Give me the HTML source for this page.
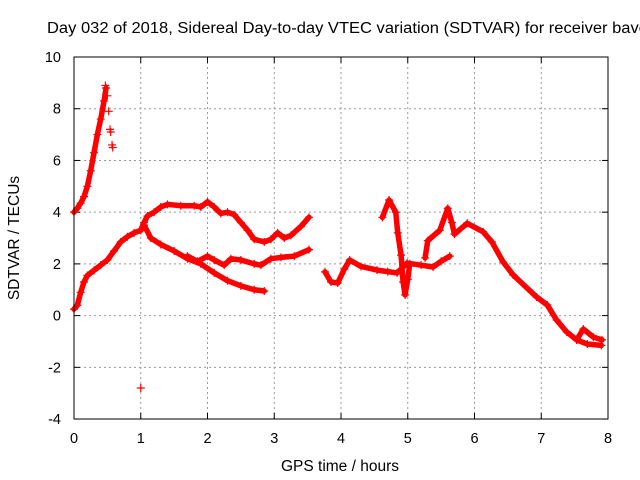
<!DOCTYPE html>
<html><head><meta charset="utf-8"><style>
body{margin:0;background:#fff;}
svg{display:block;font-family:"Liberation Sans",Arial,sans-serif;}
</style></head><body>
<svg id="chart" width="640" height="480">
<text x="47" y="33" font-size="15.5" textLength="600" lengthAdjust="spacingAndGlyphs">Day 032 of 2018, Sidereal Day-to-day VTEC variation (SDTVAR) for receiver bavc</text>
<text x="340" y="471" text-anchor="middle" font-size="15.5">GPS time / hours</text>
<text transform="translate(19,238) rotate(-90)" text-anchor="middle" font-size="15.5">SDTVAR / TECUs</text>
<g id="grid"></g><g id="marks"></g>
<rect x="74" y="57" width="534" height="362" fill="none" stroke="#000"/>
</svg>
<script>
const xTicks=[0,1,2,3,4,5,6,7,8];
const yTicks=[-4,-2,0,2,4,6,8,10];
const seriesA=[[0,4.0],[0.05,4.15],[0.1,4.35],[0.15,4.6],[0.2,5.0],[0.25,5.6],[0.3,6.3],[0.35,7.0],[0.4,7.6],[0.45,8.3],[0.48,8.8]];
const seriesAScatter=[[0.47,8.9],[0.5,8.5],[0.52,7.9],[0.54,7.2],[0.55,7.1],[0.57,6.6],[0.58,6.5]];
const seriesB=[[0,0.25],[0.05,0.4],[0.1,0.9],[0.15,1.3],[0.2,1.55],[0.3,1.75],[0.4,1.95],[0.5,2.15],[0.6,2.5],[0.7,2.85],[0.8,3.05],[0.9,3.2],[1.0,3.3],[1.05,3.6],[1.1,3.85],[1.2,4.0],[1.3,4.2],[1.4,4.3],[1.6,4.25],[1.8,4.25],[1.9,4.2],[2.0,4.4],[2.1,4.2],[2.2,3.95],[2.3,4.0],[2.4,3.9],[2.5,3.6],[2.6,3.3],[2.7,2.95],[2.85,2.85],[2.95,2.95],[3.05,3.2],[3.15,3.0],[3.25,3.1],[3.4,3.45],[3.52,3.8]];
const seriesC=[[1.05,3.5],[1.15,3.0],[1.3,2.75],[1.5,2.5],[1.7,2.2],[1.9,2.0],[2.1,1.65],[2.3,1.35],[2.5,1.15],[2.7,1.0],[2.85,0.95]];
const seriesD=[[1.7,2.3],[1.85,2.1],[2.0,2.3],[2.1,2.15],[2.25,1.95],[2.35,2.2],[2.5,2.15],[2.7,2.0],[2.8,1.95],[2.95,2.2],[3.1,2.25],[3.3,2.3],[3.52,2.55]];
const seriesE=[[3.76,1.69],[3.85,1.3],[3.95,1.26],[4.05,1.8],[4.13,2.15],[4.3,1.9],[4.54,1.76],[4.7,1.7],[4.84,1.65],[4.99,2.03],[5.2,1.95],[5.38,1.88],[5.5,2.1],[5.63,2.3]];
const seriesF=[[4.62,3.8],[4.72,4.47],[4.82,4.0],[4.85,3.2],[4.9,2.34],[4.93,1.3],[4.96,0.8],[5.0,1.4],[5.03,2.0]];
const seriesG=[[5.26,2.23],[5.3,2.9],[5.48,3.3],[5.6,4.15],[5.66,3.6],[5.7,3.15],[5.89,3.57],[6.13,3.24],[6.26,2.85],[6.43,2.07],[6.58,1.57],[6.93,0.72],[7.09,0.41],[7.23,-0.17],[7.38,-0.63],[7.53,-0.94],[7.63,-0.52],[7.78,-0.83],[7.91,-0.94]];
const seriesH=[[7.53,-0.94],[7.69,-1.1],[7.9,-1.15]];
const outliers=[[1.0,-2.8]];
const X=t=>74+t*66.75, Y=v=>315.6-v*25.86;
const NS="http://www.w3.org/2000/svg";
const grid=document.getElementById('grid'), marks=document.getElementById('marks'), svg=document.getElementById('chart');
function mk(tag,attrs,parent){const e=document.createElementNS(NS,tag);for(const k in attrs)e.setAttribute(k,attrs[k]);parent.appendChild(e);return e;}
xTicks.forEach(t=>{
 if(t>0&&t<8){const g=mk('line',{x1:X(t),x2:X(t),y1:57,y2:419,stroke:'#999','stroke-dasharray':'2,3'},grid);
 
 }
 mk('line',{x1:X(t),x2:X(t),y1:419,y2:413,stroke:'#000'},grid);
 mk('line',{x1:X(t),x2:X(t),y1:57,y2:63,stroke:'#000'},grid);
 const l=mk('text',{x:X(t),y:443,'text-anchor':'middle','font-size':14.5},svg);l.textContent=t;
 
 
});
yTicks.forEach(v=>{
 if(v>-4&&v<10){const g=mk('line',{x1:74,x2:608,y1:Y(v),y2:Y(v),stroke:'#999','stroke-dasharray':'2,3'},grid);
 
 }
 mk('line',{x1:74,x2:80,y1:Y(v),y2:Y(v),stroke:'#000'},grid);
 mk('line',{x1:602,x2:608,y1:Y(v),y2:Y(v),stroke:'#000'},grid);
 const l=mk('text',{x:61,y:Y(v)+5,'text-anchor':'end','font-size':14.5},svg);l.textContent=v;
 
 
});
function series(pts,name,line){
 const g=mk('g',{},marks);
 
 
 if(line){mk('polyline',{points:pts.map(p=>X(p[0])+','+Y(p[1])).join(' '),fill:'none',stroke:'#f00','stroke-width':5.5,'stroke-linejoin':'round','stroke-linecap':'round'},g);}
 pts.forEach(p=>{const x=X(p[0]),y=Y(p[1]);
  mk('path',{d:`M${x-4},${y}H${x+4}M${x},${y-4}V${y+4}`,stroke:'#f00','stroke-width':1.2},g);});
}
series(seriesA,'series-a',true);series(seriesAScatter,'series-a-scatter',false);
series(seriesB,'series-b',true);series(seriesC,'series-c',true);series(seriesD,'series-d',true);
series(seriesE,'series-e',true);series(seriesF,'series-f',true);series(seriesG,'series-g',true);
series(seriesH,'series-h',true);series(outliers,'outlier-points',false);
</script>
</body></html>
